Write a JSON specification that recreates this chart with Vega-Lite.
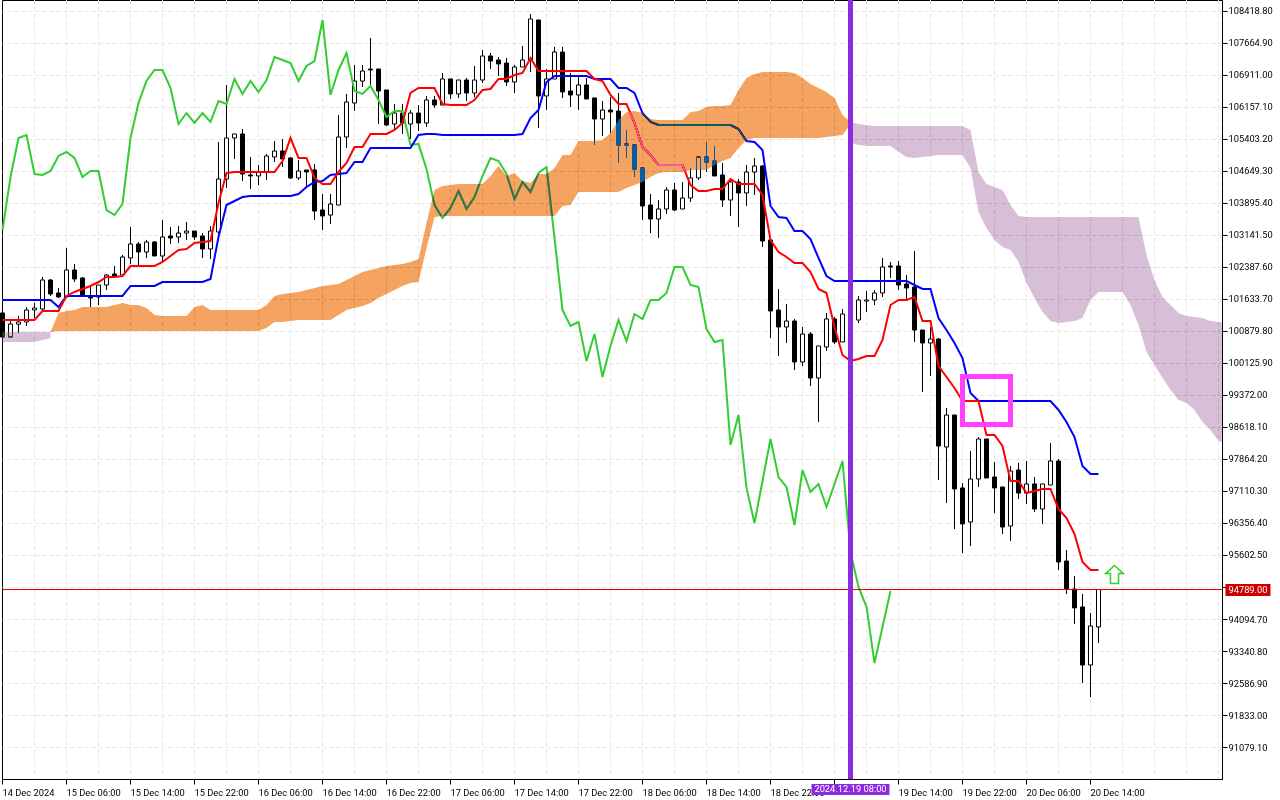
{
"$schema":"https://vega.github.io/schema/vega-lite/v6.json",
"autosize":"none","width":1220,"height":779,
"padding":{"left":2,"top":0,"right":58,"bottom":21},
"background":"#ffffff",
"view":{"stroke":"#000000","strokeWidth":1,"fill":null},
"config":{"font":"Roboto"},
"datasets":{
"candles":[
{"t":"2024-12-14T22:00Z","o":101304,"h":101328,"l":100668,"c":100738,"ten":101139,"kij":101610,"chi":103259},
{"t":"2024-12-14T23:00Z","o":100738,"h":101139,"l":100738,"c":101045,"ten":101139,"kij":101610,"chi":104508},
{"t":"2024-12-15T00:00Z","o":101040,"h":101234,"l":100832,"c":101092,"ten":101139,"kij":101610,"chi":105427},
{"t":"2024-12-15T01:00Z","o":101092,"h":101445,"l":100998,"c":101375,"ten":101139,"kij":101610,"chi":105497},
{"t":"2024-12-15T02:00Z","o":101375,"h":101539,"l":101187,"c":101422,"ten":101139,"kij":101610,"chi":104579},
{"t":"2024-12-15T03:00Z","o":101398,"h":102152,"l":101351,"c":102081,"ten":101351,"kij":101610,"chi":104555},
{"t":"2024-12-15T04:00Z","o":102081,"h":102105,"l":101705,"c":101752,"ten":101351,"kij":101610,"chi":104649},
{"t":"2024-12-15T05:00Z","o":101775,"h":101893,"l":101658,"c":101681,"ten":101351,"kij":101445,"chi":105003},
{"t":"2024-12-15T06:00Z","o":101681,"h":102836,"l":101681,"c":102317,"ten":101705,"kij":101705,"chi":105097},
{"t":"2024-12-15T07:00Z","o":102317,"h":102458,"l":102034,"c":102105,"ten":101799,"kij":101705,"chi":104956},
{"t":"2024-12-15T08:00Z","o":102129,"h":102152,"l":101705,"c":101728,"ten":101869,"kij":101705,"chi":104508},
{"t":"2024-12-15T09:00Z","o":101705,"h":101916,"l":101445,"c":101658,"ten":101940,"kij":101705,"chi":104649},
{"t":"2024-12-15T10:00Z","o":101681,"h":101963,"l":101492,"c":101963,"ten":102034,"kij":101705,"chi":104649},
{"t":"2024-12-15T11:00Z","o":101963,"h":102223,"l":101846,"c":102199,"ten":102152,"kij":101705,"chi":103730},
{"t":"2024-12-15T12:00Z","o":102223,"h":102411,"l":102152,"c":102176,"ten":102152,"kij":101705,"chi":103612},
{"t":"2024-12-15T13:00Z","o":102199,"h":102670,"l":102152,"c":102623,"ten":102176,"kij":101705,"chi":103872},
{"t":"2024-12-15T14:00Z","o":102600,"h":103330,"l":102458,"c":102930,"ten":102411,"kij":101940,"chi":105427},
{"t":"2024-12-15T15:00Z","o":102930,"h":102977,"l":102434,"c":102741,"ten":102411,"kij":101940,"chi":106251},
{"t":"2024-12-15T16:00Z","o":102741,"h":103024,"l":102600,"c":102977,"ten":102411,"kij":101940,"chi":106769},
{"t":"2024-12-15T17:00Z","o":102977,"h":103000,"l":102647,"c":102647,"ten":102411,"kij":101940,"chi":107029},
{"t":"2024-12-15T18:00Z","o":102647,"h":103495,"l":102505,"c":103094,"ten":102505,"kij":102034,"chi":107029},
{"t":"2024-12-15T19:00Z","o":103118,"h":103330,"l":102930,"c":103071,"ten":102647,"kij":102034,"chi":106605},
{"t":"2024-12-15T20:00Z","o":103094,"h":103354,"l":102953,"c":103188,"ten":102788,"kij":102034,"chi":105757},
{"t":"2024-12-15T21:00Z","o":103188,"h":103448,"l":103024,"c":103235,"ten":102812,"kij":102034,"chi":106015},
{"t":"2024-12-15T22:00Z","o":103235,"h":103235,"l":103024,"c":103094,"ten":102953,"kij":102034,"chi":105780},
{"t":"2024-12-15T23:00Z","o":103118,"h":103188,"l":102600,"c":102812,"ten":102977,"kij":102034,"chi":106015},
{"t":"2024-12-16T00:00Z","o":102812,"h":103354,"l":102576,"c":103235,"ten":103000,"kij":102105,"chi":105804},
{"t":"2024-12-16T01:00Z","o":103212,"h":105333,"l":103024,"c":104461,"ten":103895,"kij":103094,"chi":106298},
{"t":"2024-12-16T02:00Z","o":104461,"h":106675,"l":104249,"c":105427,"ten":104602,"kij":103848,"chi":106228},
{"t":"2024-12-16T03:00Z","o":105427,"h":105521,"l":104932,"c":105521,"ten":104626,"kij":103942,"chi":106817},
{"t":"2024-12-16T04:00Z","o":105521,"h":105639,"l":104413,"c":104579,"ten":104626,"kij":104037,"chi":106464},
{"t":"2024-12-16T05:00Z","o":104555,"h":104979,"l":104225,"c":104532,"ten":104626,"kij":104061,"chi":106769},
{"t":"2024-12-16T06:00Z","o":104532,"h":104790,"l":104319,"c":104626,"ten":104626,"kij":104061,"chi":106511},
{"t":"2024-12-16T07:00Z","o":104626,"h":105050,"l":104437,"c":105003,"ten":104626,"kij":104061,"chi":106793},
{"t":"2024-12-16T08:00Z","o":104979,"h":105356,"l":104861,"c":105120,"ten":104626,"kij":104061,"chi":107335},
{"t":"2024-12-16T09:00Z","o":105120,"h":105403,"l":104743,"c":104932,"ten":104884,"kij":104061,"chi":107264},
{"t":"2024-12-16T10:00Z","o":104956,"h":104979,"l":104461,"c":104485,"ten":105427,"kij":104061,"chi":107193},
{"t":"2024-12-16T11:00Z","o":104485,"h":104908,"l":104437,"c":104649,"ten":104956,"kij":104108,"chi":106769},
{"t":"2024-12-16T12:00Z","o":104673,"h":104673,"l":104249,"c":104626,"ten":104956,"kij":104272,"chi":107123},
{"t":"2024-12-16T13:00Z","o":104673,"h":104814,"l":103495,"c":103706,"ten":104485,"kij":104390,"chi":107240},
{"t":"2024-12-16T14:00Z","o":103730,"h":104108,"l":103259,"c":103589,"ten":104343,"kij":104413,"chi":108207},
{"t":"2024-12-16T15:00Z","o":103612,"h":104108,"l":103401,"c":103872,"ten":104343,"kij":104555,"chi":106440},
{"t":"2024-12-16T16:00Z","o":103848,"h":105968,"l":103848,"c":105450,"ten":104626,"kij":104579,"chi":107029},
{"t":"2024-12-16T17:00Z","o":105450,"h":106464,"l":105192,"c":106275,"ten":104837,"kij":104602,"chi":107429},
{"t":"2024-12-16T18:00Z","o":106251,"h":107146,"l":106062,"c":106769,"ten":105215,"kij":104861,"chi":106534},
{"t":"2024-12-16T19:00Z","o":106769,"h":107146,"l":106628,"c":107005,"ten":105215,"kij":104861,"chi":106464},
{"t":"2024-12-16T20:00Z","o":107052,"h":107783,"l":106628,"c":107029,"ten":105521,"kij":105192,"chi":106652},
{"t":"2024-12-16T21:00Z","o":107052,"h":107052,"l":105757,"c":106534,"ten":105521,"kij":105192,"chi":106322},
{"t":"2024-12-16T22:00Z","o":106558,"h":106558,"l":105710,"c":105733,"ten":105521,"kij":105192,"chi":105921},
{"t":"2024-12-16T23:00Z","o":105757,"h":106228,"l":105615,"c":106015,"ten":105615,"kij":105192,"chi":106062},
{"t":"2024-12-17T00:00Z","o":106015,"h":106228,"l":105521,"c":105780,"ten":105780,"kij":105192,"chi":106062},
{"t":"2024-12-17T01:00Z","o":105757,"h":106086,"l":105403,"c":106015,"ten":106487,"kij":105192,"chi":105262},
{"t":"2024-12-17T02:00Z","o":106015,"h":106204,"l":105591,"c":105780,"ten":106605,"kij":105497,"chi":105286},
{"t":"2024-12-17T03:00Z","o":105780,"h":106417,"l":105686,"c":106322,"ten":106605,"kij":105521,"chi":104696},
{"t":"2024-12-17T04:00Z","o":106322,"h":106417,"l":106134,"c":106204,"ten":106605,"kij":105521,"chi":103848},
{"t":"2024-12-17T05:00Z","o":106204,"h":106958,"l":106204,"c":106817,"ten":106228,"kij":105497,"chi":103542},
{"t":"2024-12-17T06:00Z","o":106817,"h":106817,"l":106346,"c":106464,"ten":106204,"kij":105497,"chi":103778},
{"t":"2024-12-17T07:00Z","o":106464,"h":106793,"l":106370,"c":106793,"ten":106204,"kij":105497,"chi":104178},
{"t":"2024-12-17T08:00Z","o":106793,"h":106840,"l":106298,"c":106487,"ten":106204,"kij":105497,"chi":103754},
{"t":"2024-12-17T09:00Z","o":106487,"h":107123,"l":106393,"c":106793,"ten":106322,"kij":105497,"chi":104037},
{"t":"2024-12-17T10:00Z","o":106793,"h":107500,"l":106722,"c":107359,"ten":106558,"kij":105497,"chi":104532},
{"t":"2024-12-17T11:00Z","o":107359,"h":107429,"l":107052,"c":107240,"ten":106581,"kij":105497,"chi":104956},
{"t":"2024-12-17T12:00Z","o":107264,"h":107335,"l":106888,"c":107170,"ten":106817,"kij":105497,"chi":104884},
{"t":"2024-12-17T13:00Z","o":107193,"h":107311,"l":106652,"c":106746,"ten":106817,"kij":105497,"chi":104579},
{"t":"2024-12-17T14:00Z","o":106746,"h":107146,"l":106487,"c":107099,"ten":106911,"kij":105497,"chi":103990},
{"t":"2024-12-17T15:00Z","o":107099,"h":107594,"l":107099,"c":107264,"ten":106958,"kij":105521,"chi":104390},
{"t":"2024-12-17T16:00Z","o":107264,"h":108348,"l":106982,"c":108231,"ten":107311,"kij":105898,"chi":104155},
{"t":"2024-12-17T17:00Z","o":108207,"h":108207,"l":105663,"c":106417,"ten":107005,"kij":106086,"chi":104602},
{"t":"2024-12-17T18:00Z","o":106417,"h":107052,"l":106086,"c":106817,"ten":107005,"kij":106746,"chi":104743},
{"t":"2024-12-17T19:00Z","o":106817,"h":107571,"l":106817,"c":107453,"ten":107005,"kij":106888,"chi":103071},
{"t":"2024-12-17T20:00Z","o":107453,"h":107571,"l":106370,"c":106511,"ten":107005,"kij":106888,"chi":101375},
{"t":"2024-12-17T21:00Z","o":106534,"h":106958,"l":106157,"c":106440,"ten":107005,"kij":106888,"chi":100998},
{"t":"2024-12-17T22:00Z","o":106440,"h":106864,"l":106086,"c":106675,"ten":107005,"kij":106888,"chi":101092},
{"t":"2024-12-17T23:00Z","o":106675,"h":106840,"l":106346,"c":106346,"ten":107005,"kij":106888,"chi":100173},
{"t":"2024-12-18T00:00Z","o":106370,"h":106370,"l":105262,"c":105874,"ten":106817,"kij":106817,"chi":100809},
{"t":"2024-12-18T01:00Z","o":105874,"h":106298,"l":105474,"c":106086,"ten":106769,"kij":106817,"chi":99796},
{"t":"2024-12-18T02:00Z","o":106086,"h":106393,"l":105544,"c":106039,"ten":106440,"kij":106817,"chi":100526},
{"t":"2024-12-18T03:00Z","o":106062,"h":106487,"l":104837,"c":105262,"ten":106228,"kij":106605,"chi":101139},
{"t":"2024-12-18T04:00Z","o":105286,"h":105615,"l":104956,"c":105262,"ten":106228,"kij":106605,"chi":100644},
{"t":"2024-12-18T05:00Z","o":105262,"h":105262,"l":104508,"c":104696,"ten":105780,"kij":106487,"chi":101281},
{"t":"2024-12-18T06:00Z","o":104720,"h":104720,"l":103495,"c":103825,"ten":105215,"kij":106015,"chi":101163},
{"t":"2024-12-18T07:00Z","o":103848,"h":104108,"l":103188,"c":103519,"ten":105026,"kij":105804,"chi":101610},
{"t":"2024-12-18T08:00Z","o":103519,"h":103966,"l":103071,"c":103754,"ten":104790,"kij":105733,"chi":101610},
{"t":"2024-12-18T09:00Z","o":103754,"h":104272,"l":103636,"c":104202,"ten":104790,"kij":105733,"chi":101775},
{"t":"2024-12-18T10:00Z","o":104202,"h":104366,"l":103706,"c":103730,"ten":104790,"kij":105733,"chi":102388},
{"t":"2024-12-18T11:00Z","o":103754,"h":104390,"l":103754,"c":104013,"ten":104790,"kij":105733,"chi":102388},
{"t":"2024-12-18T12:00Z","o":104013,"h":104720,"l":103919,"c":104485,"ten":104319,"kij":105733,"chi":101963},
{"t":"2024-12-18T13:00Z","o":104485,"h":104979,"l":104437,"c":104979,"ten":104178,"kij":105733,"chi":101916},
{"t":"2024-12-18T14:00Z","o":104979,"h":105333,"l":104626,"c":104861,"ten":104178,"kij":105733,"chi":100927},
{"t":"2024-12-18T15:00Z","o":104884,"h":105239,"l":104532,"c":104532,"ten":104225,"kij":105733,"chi":100621},
{"t":"2024-12-18T16:00Z","o":104555,"h":104837,"l":103801,"c":103966,"ten":104225,"kij":105733,"chi":100668},
{"t":"2024-12-18T17:00Z","o":103966,"h":104485,"l":103589,"c":104390,"ten":104461,"kij":105733,"chi":98194},
{"t":"2024-12-18T18:00Z","o":104390,"h":104461,"l":103330,"c":104131,"ten":104343,"kij":105639,"chi":98901},
{"t":"2024-12-18T19:00Z","o":104131,"h":104790,"l":103825,"c":104626,"ten":104343,"kij":105356,"chi":97182},
{"t":"2024-12-18T20:00Z","o":104626,"h":104956,"l":104084,"c":104767,"ten":104343,"kij":105333,"chi":96356},
{"t":"2024-12-18T21:00Z","o":104767,"h":104790,"l":102859,"c":103000,"ten":104084,"kij":105144,"chi":97346},
{"t":"2024-12-18T22:00Z","o":103024,"h":103024,"l":100715,"c":101351,"ten":103024,"kij":103825,"chi":98335},
{"t":"2024-12-18T23:00Z","o":101375,"h":101869,"l":100291,"c":100974,"ten":102741,"kij":103565,"chi":97440},
{"t":"2024-12-19T00:00Z","o":100974,"h":101516,"l":100597,"c":101115,"ten":102623,"kij":103542,"chi":97205},
{"t":"2024-12-19T01:00Z","o":101115,"h":101163,"l":99961,"c":100150,"ten":102481,"kij":103235,"chi":96309},
{"t":"2024-12-19T02:00Z","o":100150,"h":100974,"l":100056,"c":100809,"ten":102481,"kij":103235,"chi":97605},
{"t":"2024-12-19T03:00Z","o":100809,"h":100856,"l":99584,"c":99772,"ten":102270,"kij":103047,"chi":97087},
{"t":"2024-12-19T04:00Z","o":99772,"h":100526,"l":98736,"c":100526,"ten":101869,"kij":102600,"chi":97276},
{"t":"2024-12-19T05:00Z","o":100503,"h":101304,"l":100409,"c":101163,"ten":101775,"kij":102176,"chi":96733},
{"t":"2024-12-19T06:00Z","o":101163,"h":101210,"l":100574,"c":100621,"ten":100974,"kij":102057,"chi":97276},
{"t":"2024-12-19T07:00Z","o":100621,"h":101398,"l":100621,"c":101281,"ten":100314,"kij":102057,"chi":97817},
{"t":"2024-12-19T08:00Z","o":101281,"h":101328,"l":101021,"c":101139,"ten":100173,"kij":102057,"chi":95674},
{"t":"2024-12-19T09:00Z","o":101139,"h":101705,"l":101068,"c":101610,"ten":100221,"kij":102057,"chi":94849},
{"t":"2024-12-19T10:00Z","o":101586,"h":101822,"l":101328,"c":101610,"ten":100291,"kij":102057,"chi":94378},
{"t":"2024-12-19T11:00Z","o":101610,"h":101846,"l":101492,"c":101775,"ten":100291,"kij":102057,"chi":93058},
{"t":"2024-12-19T12:00Z","o":101775,"h":102600,"l":101681,"c":102388,"ten":100668,"kij":102057,"chi":93907},
{"t":"2024-12-19T13:00Z","o":102411,"h":102505,"l":102129,"c":102388,"ten":101492,"kij":102057,"chi":94754},
{"t":"2024-12-19T14:00Z","o":102411,"h":102529,"l":101846,"c":101963,"ten":101610,"kij":102057},
{"t":"2024-12-19T15:00Z","o":101987,"h":102199,"l":101634,"c":101893,"ten":101610,"kij":102057},
{"t":"2024-12-19T16:00Z","o":101916,"h":102765,"l":100621,"c":100903,"ten":101681,"kij":101963},
{"t":"2024-12-19T17:00Z","o":100903,"h":100903,"l":99443,"c":100597,"ten":101115,"kij":101869},
{"t":"2024-12-19T18:00Z","o":100597,"h":100974,"l":99819,"c":100691,"ten":101115,"kij":101869},
{"t":"2024-12-19T19:00Z","o":100691,"h":100715,"l":97370,"c":98170,"ten":100056,"kij":101187},
{"t":"2024-12-19T20:00Z","o":98147,"h":99065,"l":96827,"c":98901,"ten":99796,"kij":100903},
{"t":"2024-12-19T21:00Z","o":98901,"h":98901,"l":96215,"c":97158,"ten":99536,"kij":100597},
{"t":"2024-12-19T22:00Z","o":97182,"h":97299,"l":95650,"c":96333,"ten":99230,"kij":100244},
{"t":"2024-12-19T23:00Z","o":96380,"h":98053,"l":95815,"c":97393,"ten":99230,"kij":99419},
{"t":"2024-12-20T00:00Z","o":97393,"h":98382,"l":97205,"c":98335,"ten":99230,"kij":99230},
{"t":"2024-12-20T01:00Z","o":98335,"h":98335,"l":97417,"c":97417,"ten":98429,"kij":99230},
{"t":"2024-12-20T02:00Z","o":97440,"h":97794,"l":96592,"c":97182,"ten":98429,"kij":99230},
{"t":"2024-12-20T03:00Z","o":97205,"h":97205,"l":96097,"c":96262,"ten":98170,"kij":99230},
{"t":"2024-12-20T04:00Z","o":96286,"h":97699,"l":95932,"c":97581,"ten":97346,"kij":99230},
{"t":"2024-12-20T05:00Z","o":97605,"h":97770,"l":96922,"c":97063,"ten":97346,"kij":99230},
{"t":"2024-12-20T06:00Z","o":97063,"h":97817,"l":96804,"c":97276,"ten":97063,"kij":99230},
{"t":"2024-12-20T07:00Z","o":97276,"h":97440,"l":96616,"c":96686,"ten":97110,"kij":99230},
{"t":"2024-12-20T08:00Z","o":96686,"h":97276,"l":96333,"c":97276,"ten":97158,"kij":99230},
{"t":"2024-12-20T09:00Z","o":97252,"h":98241,"l":97252,"c":97817,"ten":97158,"kij":99230},
{"t":"2024-12-20T10:00Z","o":97817,"h":97864,"l":95249,"c":95438,"ten":96686,"kij":99019},
{"t":"2024-12-20T11:00Z","o":95461,"h":95721,"l":94684,"c":94801,"ten":96475,"kij":98736},
{"t":"2024-12-20T12:00Z","o":94801,"h":95108,"l":93978,"c":94355,"ten":96098,"kij":98382},
{"t":"2024-12-20T13:00Z","o":94378,"h":94684,"l":92587,"c":93011,"ten":95438,"kij":97700},
{"t":"2024-12-20T14:00Z","o":93011,"h":94236,"l":92257,"c":93931,"ten":95249,"kij":97511},
{"t":"2024-12-20T15:00Z","o":93907,"h":94801,"l":93529,"c":94789,"ten":95249,"kij":97511}
],
"cloudUp":[
{"t":"2024-12-15T04:00Z","a":100856,"b":100856},
{"t":"2024-12-15T05:00Z","a":101304,"b":100879},
{"t":"2024-12-15T06:00Z","a":101351,"b":100879},
{"t":"2024-12-15T07:00Z","a":101375,"b":100879},
{"t":"2024-12-15T08:00Z","a":101445,"b":100879},
{"t":"2024-12-15T11:00Z","a":101445,"b":100879},
{"t":"2024-12-15T12:00Z","a":101492,"b":100879},
{"t":"2024-12-15T13:00Z","a":101539,"b":100879},
{"t":"2024-12-15T14:00Z","a":101492,"b":100879},
{"t":"2024-12-15T15:00Z","a":101492,"b":100879},
{"t":"2024-12-15T16:00Z","a":101422,"b":100879},
{"t":"2024-12-15T17:00Z","a":101257,"b":100879},
{"t":"2024-12-15T18:00Z","a":101234,"b":100879},
{"t":"2024-12-15T21:00Z","a":101234,"b":100879},
{"t":"2024-12-15T22:00Z","a":101445,"b":100879},
{"t":"2024-12-15T23:00Z","a":101492,"b":100879},
{"t":"2024-12-16T00:00Z","a":101375,"b":100879},
{"t":"2024-12-16T06:00Z","a":101375,"b":100879},
{"t":"2024-12-16T07:00Z","a":101492,"b":100951},
{"t":"2024-12-16T08:00Z","a":101705,"b":101092},
{"t":"2024-12-16T09:00Z","a":101752,"b":101092},
{"t":"2024-12-16T10:00Z","a":101775,"b":101115},
{"t":"2024-12-16T11:00Z","a":101799,"b":101139},
{"t":"2024-12-16T12:00Z","a":101846,"b":101139},
{"t":"2024-12-16T13:00Z","a":101893,"b":101139},
{"t":"2024-12-16T14:00Z","a":101940,"b":101139},
{"t":"2024-12-16T15:00Z","a":101963,"b":101139},
{"t":"2024-12-16T16:00Z","a":101987,"b":101257},
{"t":"2024-12-16T17:00Z","a":102081,"b":101375},
{"t":"2024-12-16T18:00Z","a":102176,"b":101422},
{"t":"2024-12-16T19:00Z","a":102270,"b":101469},
{"t":"2024-12-16T20:00Z","a":102317,"b":101539},
{"t":"2024-12-16T21:00Z","a":102364,"b":101658},
{"t":"2024-12-16T22:00Z","a":102411,"b":101752},
{"t":"2024-12-16T23:00Z","a":102434,"b":101846},
{"t":"2024-12-17T00:00Z","a":102458,"b":101940},
{"t":"2024-12-17T01:00Z","a":102505,"b":102011},
{"t":"2024-12-17T02:00Z","a":102576,"b":102034},
{"t":"2024-12-17T03:00Z","a":103424,"b":102836},
{"t":"2024-12-17T04:00Z","a":104202,"b":103565},
{"t":"2024-12-17T05:00Z","a":104296,"b":103589},
{"t":"2024-12-17T06:00Z","a":104319,"b":103589},
{"t":"2024-12-17T07:00Z","a":104343,"b":103589},
{"t":"2024-12-17T10:00Z","a":104343,"b":103589},
{"t":"2024-12-17T11:00Z","a":104532,"b":103589},
{"t":"2024-12-17T12:00Z","a":104767,"b":103589},
{"t":"2024-12-17T13:00Z","a":104532,"b":103589},
{"t":"2024-12-17T14:00Z","a":104602,"b":103589},
{"t":"2024-12-17T15:00Z","a":104413,"b":103589},
{"t":"2024-12-17T16:00Z","a":104366,"b":103589},
{"t":"2024-12-17T17:00Z","a":104579,"b":103589},
{"t":"2024-12-17T18:00Z","a":104579,"b":103589},
{"t":"2024-12-17T19:00Z","a":104720,"b":103589},
{"t":"2024-12-17T20:00Z","a":105026,"b":103825},
{"t":"2024-12-17T21:00Z","a":105026,"b":103848},
{"t":"2024-12-17T22:00Z","a":105356,"b":104155},
{"t":"2024-12-18T00:00Z","a":105356,"b":104155},
{"t":"2024-12-18T01:00Z","a":105380,"b":104155},
{"t":"2024-12-18T02:00Z","a":105544,"b":104155},
{"t":"2024-12-18T03:00Z","a":105851,"b":104155},
{"t":"2024-12-18T04:00Z","a":106039,"b":104249},
{"t":"2024-12-18T05:00Z","a":106062,"b":104319},
{"t":"2024-12-18T06:00Z","a":106015,"b":104390},
{"t":"2024-12-18T07:00Z","a":105874,"b":104508},
{"t":"2024-12-18T08:00Z","a":105851,"b":104602},
{"t":"2024-12-18T09:00Z","a":105851,"b":104626},
{"t":"2024-12-18T11:00Z","a":105851,"b":104626},
{"t":"2024-12-18T12:00Z","a":106039,"b":104673},
{"t":"2024-12-18T13:00Z","a":106062,"b":104673},
{"t":"2024-12-18T14:00Z","a":106157,"b":104673},
{"t":"2024-12-18T15:00Z","a":106181,"b":104790},
{"t":"2024-12-18T16:00Z","a":106181,"b":104884},
{"t":"2024-12-18T17:00Z","a":106204,"b":104956},
{"t":"2024-12-18T18:00Z","a":106558,"b":105192},
{"t":"2024-12-18T19:00Z","a":106840,"b":105380},
{"t":"2024-12-18T20:00Z","a":106935,"b":105427},
{"t":"2024-12-18T21:00Z","a":106982,"b":105427},
{"t":"2024-12-19T00:00Z","a":106982,"b":105427},
{"t":"2024-12-19T01:00Z","a":106958,"b":105427},
{"t":"2024-12-19T02:00Z","a":106840,"b":105427},
{"t":"2024-12-19T03:00Z","a":106699,"b":105427},
{"t":"2024-12-19T04:00Z","a":106605,"b":105427},
{"t":"2024-12-19T05:00Z","a":106511,"b":105450},
{"t":"2024-12-19T06:00Z","a":106370,"b":105474},
{"t":"2024-12-19T07:00Z","a":105968,"b":105497},
{"t":"2024-12-19T08:00Z","a":105804,"b":105757}
],
"cloudDownStart":[
{"t":"2024-12-14T22:00Z","a":100856,"b":100621},
{"t":"2024-12-15T02:00Z","a":100856,"b":100621},
{"t":"2024-12-15T03:00Z","a":100856,"b":100668},
{"t":"2024-12-15T04:00Z","a":100856,"b":100715}
],
"cloudDownEnd":[
{"t":"2024-12-19T08:00Z","a":105804,"b":105309},
{"t":"2024-12-19T09:00Z","a":105757,"b":105262},
{"t":"2024-12-19T10:00Z","a":105733,"b":105239},
{"t":"2024-12-19T11:00Z","a":105710,"b":105239},
{"t":"2024-12-19T13:00Z","a":105710,"b":105239},
{"t":"2024-12-19T14:00Z","a":105710,"b":105097},
{"t":"2024-12-19T15:00Z","a":105710,"b":104979},
{"t":"2024-12-19T16:00Z","a":105710,"b":104956},
{"t":"2024-12-19T17:00Z","a":105710,"b":104979},
{"t":"2024-12-19T18:00Z","a":105710,"b":105003},
{"t":"2024-12-19T19:00Z","a":105710,"b":105026},
{"t":"2024-12-19T22:00Z","a":105710,"b":105026},
{"t":"2024-12-19T23:00Z","a":105615,"b":104720},
{"t":"2024-12-20T00:00Z","a":104626,"b":103683},
{"t":"2024-12-20T01:00Z","a":104343,"b":103306},
{"t":"2024-12-20T02:00Z","a":104272,"b":103024},
{"t":"2024-12-20T03:00Z","a":104202,"b":102859},
{"t":"2024-12-20T04:00Z","a":103848,"b":102788},
{"t":"2024-12-20T05:00Z","a":103589,"b":102505},
{"t":"2024-12-20T06:00Z","a":103565,"b":102011},
{"t":"2024-12-20T07:00Z","a":103565,"b":101658},
{"t":"2024-12-20T08:00Z","a":103565,"b":101328},
{"t":"2024-12-20T09:00Z","a":103565,"b":101115},
{"t":"2024-12-20T10:00Z","a":103565,"b":101068},
{"t":"2024-12-20T11:00Z","a":103565,"b":101092},
{"t":"2024-12-20T12:00Z","a":103565,"b":101115},
{"t":"2024-12-20T13:00Z","a":103565,"b":101187},
{"t":"2024-12-20T14:00Z","a":103565,"b":101610},
{"t":"2024-12-20T15:00Z","a":103565,"b":101799},
{"t":"2024-12-20T18:00Z","a":103565,"b":101799},
{"t":"2024-12-20T19:00Z","a":103565,"b":101492},
{"t":"2024-12-20T20:00Z","a":103565,"b":101021},
{"t":"2024-12-20T21:00Z","a":102670,"b":100385},
{"t":"2024-12-20T22:00Z","a":102081,"b":100079},
{"t":"2024-12-20T23:00Z","a":101681,"b":99772},
{"t":"2024-12-21T00:00Z","a":101492,"b":99490},
{"t":"2024-12-21T01:00Z","a":101304,"b":99254},
{"t":"2024-12-21T02:00Z","a":101234,"b":99183},
{"t":"2024-12-21T03:00Z","a":101210,"b":99019},
{"t":"2024-12-21T04:00Z","a":101187,"b":98736},
{"t":"2024-12-21T05:00Z","a":101115,"b":98547},
{"t":"2024-12-21T06:00Z","a":101092,"b":98288},
{"t":"2024-12-21T06:26Z","a":101080,"b":98265}
],
"xgrid":[
{"t":"2024-12-15T02:00Z"},{"t":"2024-12-15T06:00Z"},{"t":"2024-12-15T10:00Z"},{"t":"2024-12-15T14:00Z"},{"t":"2024-12-15T18:00Z"},{"t":"2024-12-15T22:00Z"},
{"t":"2024-12-16T02:00Z"},{"t":"2024-12-16T06:00Z"},{"t":"2024-12-16T10:00Z"},{"t":"2024-12-16T14:00Z"},{"t":"2024-12-16T18:00Z"},{"t":"2024-12-16T22:00Z"},
{"t":"2024-12-17T02:00Z"},{"t":"2024-12-17T06:00Z"},{"t":"2024-12-17T10:00Z"},{"t":"2024-12-17T14:00Z"},{"t":"2024-12-17T18:00Z"},{"t":"2024-12-17T22:00Z"},
{"t":"2024-12-18T02:00Z"},{"t":"2024-12-18T06:00Z"},{"t":"2024-12-18T10:00Z"},{"t":"2024-12-18T14:00Z"},{"t":"2024-12-18T18:00Z"},{"t":"2024-12-18T22:00Z"},
{"t":"2024-12-19T02:00Z"},{"t":"2024-12-19T06:00Z"},{"t":"2024-12-19T10:00Z"},{"t":"2024-12-19T14:00Z"},{"t":"2024-12-19T18:00Z"},{"t":"2024-12-19T22:00Z"},
{"t":"2024-12-20T02:00Z"},{"t":"2024-12-20T06:00Z"},{"t":"2024-12-20T10:00Z"},{"t":"2024-12-20T14:00Z"},{"t":"2024-12-20T18:00Z"},{"t":"2024-12-20T22:00Z"},
{"t":"2024-12-21T02:00Z"},{"t":"2024-12-21T06:00Z"}
]
},
"encoding":{
"x":{"field":"t","type":"temporal","title":null,
"scale":{"type":"utc","domain":[1734213375000,1734762375000],"nice":false,"padding":0},
"axis":{"values":[1734213600000,1734242400000,1734271200000,1734300000000,1734328800000,1734357600000,1734386400000,1734415200000,1734444000000,1734472800000,1734501600000,1734530400000,1734559200000,1734588000000,1734616800000,1734645600000,1734674400000,1734703200000],
"labelExpr":"datum.index==0?'14 Dec 2024':(time(datum.value)==1734588000000?'':utcFormat(datum.value,'%d %b %H:%M'))",
"grid":false,"domain":true,"domainColor":"#000000","ticks":true,"tickColor":"#000000","tickSize":5,"tickOffset":-0.5,
"labelAlign":"left","labelBaseline":"middle","labelPadding":8,"labelOverlap":false,"labelFlush":false,"labelBound":false,
"labelFont":"Roboto","labelFontSize":9.3,"labelColor":"#000000"}}
},
"layer":[
{"data":{"name":"xgrid"},"mark":{"type":"rule","color":"#e6e6e6","strokeDash":[4,3],"strokeWidth":1},"encoding":{}},
{"data":{"name":"candles"},"mark":{"type":"rule","color":"#000000","strokeWidth":1},
"encoding":{"y":{"field":"l","type":"quantitative","title":null,
"scale":{"domain":[90325.3,108677.7],"nice":false,"zero":false},
"axis":{"orient":"right","tickCount":24,"values":[108418.8,107664.9,106911,106157.1,105403.2,104649.3,103895.4,103141.5,102387.6,101633.7,100879.8,100125.9,99372,98618.1,97864.2,97110.3,96356.4,95602.5,94848.6,94094.7,93340.8,92586.9,91833,91079.1],
"format":".2f","grid":true,"gridColor":"#e6e6e6","gridDash":[4,3],"domain":true,"domainColor":"#000000","ticks":true,"tickColor":"#000000","tickSize":5,
"labelPadding":1,"labelOverlap":false,"labelFlush":false,"labelBound":false,"labelFont":"Roboto","labelFontSize":9.3,"labelColor":"#000000"}},
"y2":{"field":"h"}}},
{"data":{"name":"candles"},"mark":{"type":"bar","size":4,"stroke":"#000000","strokeWidth":1},
"encoding":{"y":{"field":"o","type":"quantitative"},"y2":{"field":"c"},
"fill":{"condition":{"test":"datum.c>=datum.o","value":"#ffffff"},"value":"#000000"}}},
{"data":{"name":"candles"},"mark":{"type":"line","color":"#32cd32","strokeWidth":2},"encoding":{"y":{"field":"chi","type":"quantitative"}}},
{"data":{"name":"candles"},"mark":{"type":"line","color":"#0000ff","strokeWidth":2},"encoding":{"y":{"field":"kij","type":"quantitative"}}},
{"data":{"name":"candles"},"mark":{"type":"line","color":"#ff0000","strokeWidth":2},"encoding":{"y":{"field":"ten","type":"quantitative"}}},
{"data":{"name":"cloudUp"},"mark":{"type":"area","color":"#0b5b9f","opacity":1,"blend":"difference"},"encoding":{"y":{"field":"a","type":"quantitative"},"y2":{"field":"b"}}},
{"data":{"name":"cloudDownStart"},"mark":{"type":"area","color":"#274027","opacity":1,"blend":"difference"},"encoding":{"y":{"field":"a","type":"quantitative"},"y2":{"field":"b"}}},
{"data":{"name":"cloudDownEnd"},"mark":{"type":"area","color":"#274027","opacity":1,"blend":"difference"},"encoding":{"y":{"field":"a","type":"quantitative"},"y2":{"field":"b"}}},
{"data":{"values":[{"t":"2024-12-14T22:00Z","p":94789},{"t":"2024-12-21T06:26Z","p":94789}]},"mark":{"type":"line","color":"#e00000","strokeWidth":1},"encoding":{"y":{"field":"p","type":"quantitative"}}},
{"data":{"values":[{"t":"2024-12-19T08:00Z"}]},"mark":{"type":"rule","color":"#8a2be2","strokeWidth":5},"encoding":{}},
{"data":{"values":[{"t":"2024-12-19T22:00Z","t2":"2024-12-20T04:00Z","p":99808,"p2":98677}]},"mark":{"type":"rect","fillOpacity":0,"stroke":"#ff40ff","strokeWidth":5},
"encoding":{"x2":{"field":"t2"},"y":{"field":"p","type":"quantitative"},"y2":{"field":"p2"}}},
{"data":{"values":[{"t":"2024-12-20T17:00Z","p":95143}]},"mark":{"type":"point","shape":"M0,-1L1,-0.1L0.45,-0.1L0.45,1L-0.45,1L-0.45,-0.1L-1,-0.1Z","filled":true,"fill":"#ffffff","stroke":"#32cd32","strokeWidth":1.5,"size":320,"opacity":1},
"encoding":{"y":{"field":"p","type":"quantitative"}}},
{"data":{"values":[{"t":"2024-12-19T03:07:30Z","t2":"2024-12-19T12:52:30Z","p":90208,"p2":89949,"f":"#8a2be2"},{"t":"2024-12-21T06:52:00Z","t2":"2024-12-21T12:30:00Z","p":94920,"p2":94637,"f":"#cc0000"}]},
"mark":{"type":"rect"},"encoding":{"x2":{"field":"t2"},"y":{"field":"p","type":"quantitative"},"y2":{"field":"p2"},"fill":{"field":"f","type":"nominal","scale":null,"legend":null}}},
{"data":{"values":[{"t":"2024-12-19T08:00Z","p":90078,"s":"2024.12.19 08:00"},{"t":"2024-12-21T09:41:00Z","p":94779,"s":"94789.00"}]},
"mark":{"type":"text","color":"#ffffff","font":"Roboto","fontSize":9.3,"align":"center","baseline":"middle"},
"encoding":{"y":{"field":"p","type":"quantitative"},"text":{"field":"s"}}}
]
}
